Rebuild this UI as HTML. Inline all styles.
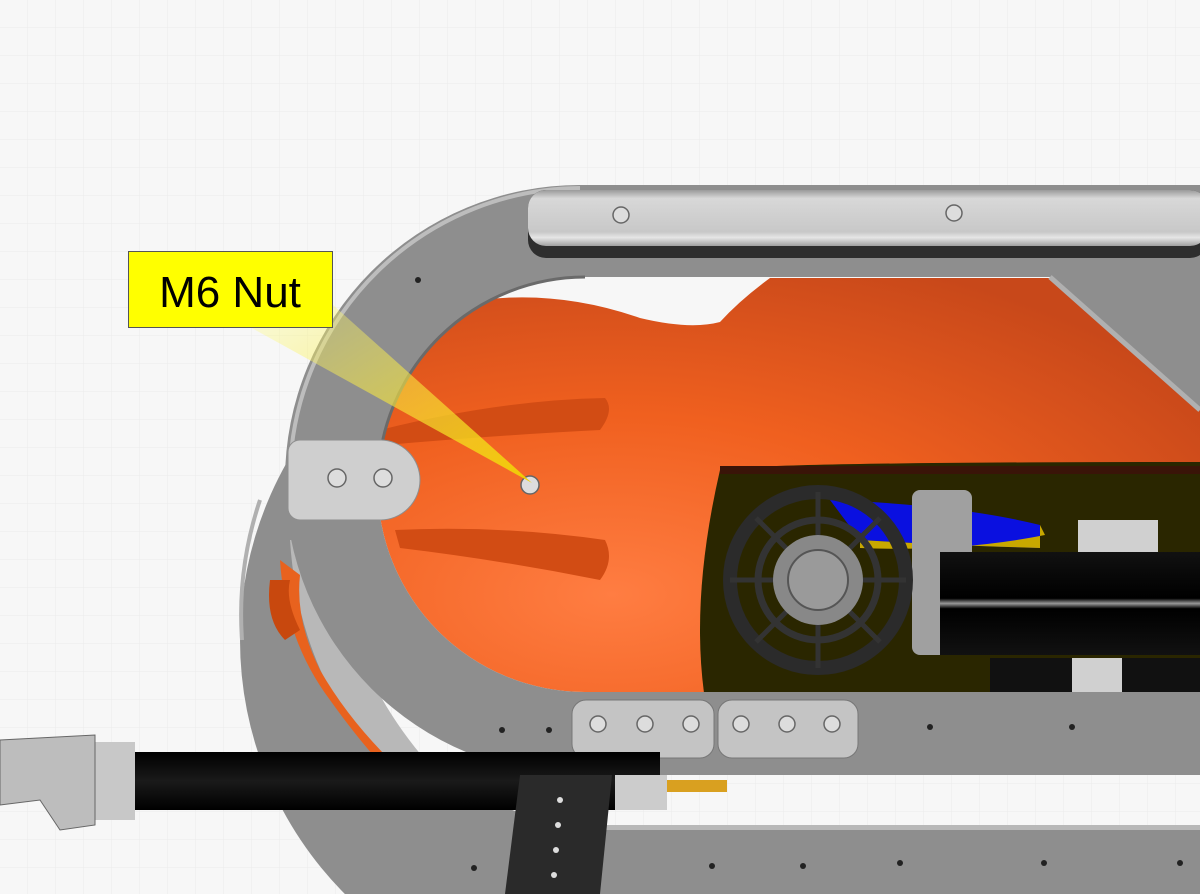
<!DOCTYPE html>
<html><head><meta charset="utf-8"><style>
html,body{margin:0;padding:0;width:1200px;height:894px;overflow:hidden;background:#f7f7f7}
svg{display:block}
</style></head><body>
<svg width="1200" height="894" viewBox="0 0 1200 894" xmlns="http://www.w3.org/2000/svg">
<defs>
<pattern id="g" width="28" height="28" patternUnits="userSpaceOnUse"><path d="M28 0V28H0" fill="none" stroke="#ebebeb" stroke-width="1"/></pattern>
<radialGradient id="or" cx="0.3" cy="0.75" r="0.85"><stop offset="0" stop-color="#ff7d42"/><stop offset="0.5" stop-color="#f0601f"/><stop offset="1" stop-color="#c8481a"/></radialGradient>
<linearGradient id="bar" x1="0" y1="0" x2="0" y2="1"><stop offset="0" stop-color="#9a9a9a"/><stop offset="0.15" stop-color="#d8d8d8"/><stop offset="0.75" stop-color="#c8c8c8"/><stop offset="0.85" stop-color="#e6e6e6"/><stop offset="1" stop-color="#a0a0a0"/></linearGradient>
<linearGradient id="tube" x1="0" y1="0" x2="0" y2="1"><stop offset="0" stop-color="#111"/><stop offset="0.45" stop-color="#000"/><stop offset="0.5" stop-color="#999"/><stop offset="0.55" stop-color="#000"/><stop offset="1" stop-color="#111"/></linearGradient>
<linearGradient id="tube2" x1="0" y1="0" x2="0" y2="1"><stop offset="0" stop-color="#000"/><stop offset="0.5" stop-color="#1a1a1a"/><stop offset="1" stop-color="#000"/></linearGradient>
<linearGradient id="yel" x1="0" y1="0" x2="1" y2="1"><stop offset="0" stop-color="#ffff80" stop-opacity="0.25"/><stop offset="1" stop-color="#f0d000" stop-opacity="0.95"/></linearGradient>
<clipPath id="hole"><path d="M585 277 H1050 L1200 410 V692 H585 A207.5 207.5 0 0 1 585 277Z"/></clipPath>
<clipPath id="frame"><rect width="1200" height="894"/></clipPath>
</defs>
<g clip-path="url(#frame)">
<rect width="1200" height="894" fill="url(#g)"/>
<path fill-rule="evenodd" fill="#8e8e8e" d="M1200 280 H600 A360 360 0 0 0 600 1000 H1200Z M1200 295 H600 A265 265 0 0 0 600 825 H1200Z"/>
<path d="M260 500 A360 360 0 0 0 242 640" fill="none" stroke="#b0b0b0" stroke-width="4"/>
<rect x="560" y="825" width="640" height="69" fill="#8e8e8e"/>
<rect x="560" y="825" width="640" height="5" fill="#b8b8b8"/>
<path d="M290 540 Q300 700 420 800 L470 805 Q350 700 330 540Z" fill="#b8b8b8"/>
<path d="M280 560 Q285 640 330 700 Q380 770 420 800 L435 800 Q360 740 320 670 Q295 620 300 575Z" fill="#e8621e"/>
<path d="M270 580 Q265 620 285 640 L300 630 Q285 600 290 580Z" fill="#c8480e"/>
<g clip-path="url(#hole)">
<rect x="300" y="260" width="900" height="440" fill="#f7f7f7"/>
<path d="M360 440 Q400 330 480 300 Q560 290 640 318 Q690 330 720 322 Q740 300 770 278 H1060 L1200 400 V700 H360Z" fill="url(#or)"/>
<path d="M380 430 Q500 400 605 398 Q615 410 600 430 Q500 435 385 445Z" fill="#d24c14"/>
<path d="M395 530 Q500 525 605 540 Q615 560 600 580 Q500 560 400 548Z" fill="#d24c14"/>
<path d="M720 470 Q760 462 1200 462 V700 H705 Q690 600 720 470Z" fill="#2a2600"/>
<rect x="720" y="466" width="480" height="8" fill="#3a1408"/>
<path d="M830 500 Q960 505 1040 525 L1040 548 Q940 545 860 540Z" fill="#0a10e0"/>
<path d="M1040 525 L1045 535 Q960 552 860 548 L860 540 Q940 545 1040 548Z" fill="#c8a800"/>
<rect x="1078" y="520" width="80" height="40" fill="#d0d0d0"/>
<rect x="912" y="490" width="60" height="165" rx="8" fill="#a0a0a0"/>
<rect x="940" y="552" width="260" height="103" fill="url(#tube)"/>
<rect x="990" y="658" width="210" height="34" fill="#111"/>
<rect x="1072" y="658" width="50" height="34" fill="#d0d0d0"/>
<circle cx="818" cy="580" r="88" fill="none" stroke="#2b2b2b" stroke-width="14"/>
<circle cx="818" cy="580" r="60" fill="none" stroke="#333" stroke-width="7"/>
<g stroke="#333" stroke-width="5">
<line x1="818" y1="492" x2="818" y2="668"/><line x1="730" y1="580" x2="906" y2="580"/>
<line x1="756" y1="518" x2="880" y2="642"/><line x1="880" y1="518" x2="756" y2="642"/>
</g>
<circle cx="818" cy="580" r="45" fill="#888"/>
<circle cx="818" cy="580" r="30" fill="#9a9a9a" stroke="#555" stroke-width="2"/>
</g>
<path fill-rule="evenodd" fill="#8e8e8e" d="M1200 185 H580 A295 295 0 0 0 580 775 H1200 V692 H585 A207.5 207.5 0 0 1 585 277 H1050 L1200 410Z"/>
<path d="M580 188 A292 292 0 0 0 290 470" fill="none" stroke="#bdbdbd" stroke-width="4"/>
<path d="M585 277 A207.5 207.5 0 0 0 378 480" fill="none" stroke="#6a6a6a" stroke-width="3"/>
<path d="M1050 277 L1200 410" stroke="#b0b0b0" stroke-width="5"/>
<rect x="528" y="190" width="680" height="68" rx="18" fill="#2e2e2e"/>
<rect x="528" y="190" width="680" height="56" rx="18" fill="url(#bar)"/>
<path d="M300 440 H380 A35 35 0 0 1 380 520 H300 A12 12 0 0 1 288 508 V452 A12 12 0 0 1 300 440Z" fill="#cfcfcf" stroke="#8e8e8e"/>
<rect x="572" y="700" width="142" height="58" rx="14" fill="#c4c4c4" stroke="#777"/>
<rect x="718" y="700" width="140" height="58" rx="14" fill="#c4c4c4" stroke="#777"/>
<g fill="#ddd" stroke="#666" stroke-width="1.5">
<circle cx="621" cy="215" r="8"/><circle cx="954" cy="213" r="8"/>
<circle cx="337" cy="478" r="9"/><circle cx="383" cy="478" r="9"/>
<circle cx="598" cy="724" r="8"/><circle cx="645" cy="724" r="8"/><circle cx="691" cy="724" r="8"/>
<circle cx="741" cy="724" r="8"/><circle cx="787" cy="724" r="8"/><circle cx="832" cy="724" r="8"/>
<circle cx="530" cy="485" r="9"/>
</g>
<g fill="#222">
<circle cx="418" cy="280" r="3"/><circle cx="502" cy="730" r="3"/><circle cx="549" cy="730" r="3"/><circle cx="930" cy="727" r="3"/><circle cx="1072" cy="727" r="3"/>
<circle cx="474" cy="868" r="3"/><circle cx="712" cy="866" r="3"/><circle cx="803" cy="866" r="3"/><circle cx="900" cy="863" r="3"/><circle cx="1044" cy="863" r="3"/><circle cx="1180" cy="863" r="3"/>
</g>
<rect x="100" y="752" width="560" height="58" fill="url(#tube2)"/>
<rect x="95" y="742" width="40" height="78" fill="#c8c8c8"/>
<path d="M0 740 L95 735 V825 L60 830 L40 800 L0 805Z" fill="#bdbdbd" stroke="#666"/>
<rect x="615" y="775" width="52" height="35" fill="#ccc"/>
<rect x="667" y="780" width="60" height="12" fill="#d9a020"/>
<path d="M520 775 H612 L600 894 H505Z" fill="#2a2a2a"/>
<g fill="#ddd"><circle cx="560" cy="800" r="3"/><circle cx="558" cy="825" r="3"/><circle cx="556" cy="850" r="3"/><circle cx="554" cy="875" r="3"/></g>
<polygon points="250,327 333,305 532,483" fill="url(#yel)"/>
<rect x="128.5" y="251.5" width="204" height="76" fill="#ffff00" stroke="#555"/>
<text x="230" y="307" text-anchor="middle" font-family="Liberation Sans, sans-serif" font-size="44" fill="#000">M6 Nut</text>
</g>
</svg>
</body></html>
